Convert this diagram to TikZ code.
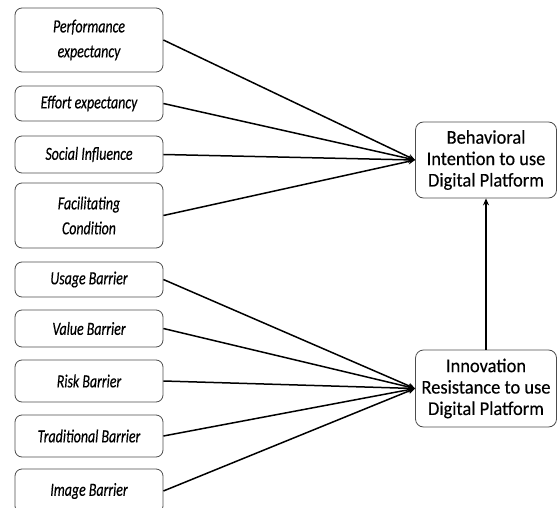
\documentclass[tikz,border=0pt]{standalone}
\usepackage{fontspec}
\setmainfont{Carlito}[FakeStretch=0.95, FakeBold=0.3]
\newfontfamily\factorfont{Carlito}[FakeStretch=0.75, FakeBold=0.4]
\usetikzlibrary{arrows.meta}

\tikzset{
  factor/.style={draw=black!70, line width=0.8bp, rounded corners=7bp,
    minimum width=148bp, align=center, inner sep=2bp,
    font=\factorfont\fontsize{18.6}{25}\selectfont\itshape},
  outcome/.style={draw=black!70, line width=0.8bp, rounded corners=8bp,
    minimum width=141bp, align=center, inner sep=2bp,
    font=\fontsize{19.5}{21.5}\selectfont},
  link/.style={line width=1.5bp, -{Stealth[length=7bp,width=6bp]}}
}

\begin{document}
\begin{tikzpicture}[x=1bp, y=-1bp]

\useasboundingbox (0,0) rectangle (558,508);

% outcome constructs
\node[outcome, minimum height=76bp] (bi) at (486,160)
  {Behavioral\\Intention to use\\Digital Platform};
\node[outcome, minimum height=77bp] (ir) at (486,388.5)
  {Innovation\\Resistance to use\\Digital Platform};

% UTAUT predictors -> intention
\foreach \nm/\yc/\hgt/\txt in {
    pe/40/64/{Performance\\expectancy},
    ee/103.5/35/{Effort expectancy},
    si/154.5/37/{Social Influence},
    fc/215.5/65/{Facilitating\\Condition}} {
  \node[factor, minimum height=\hgt bp] (\nm) at (89,\yc) {\txt};
  \draw[link] (\nm.east) -- (bi.west);
}

% resistance barriers -> resistance
\foreach \nm/\yc/\hgt/\txt in {
    ub/279.5/35/{Usage Barrier},
    vb/328.5/37/{Value Barrier},
    rb/381/42/{Risk Barrier},
    tb/436/42/{Traditional Barrier},
    ib/491/44/{Image Barrier}} {
  \node[factor, minimum height=\hgt bp] (\nm) at (89,\yc) {\txt};
  \draw[link] (\nm.east) -- (ir.west);
}

% resistance -> intention
\draw[link, line width=1.1bp] (ir.north) -- (bi.south);

\end{tikzpicture}
\end{document}
